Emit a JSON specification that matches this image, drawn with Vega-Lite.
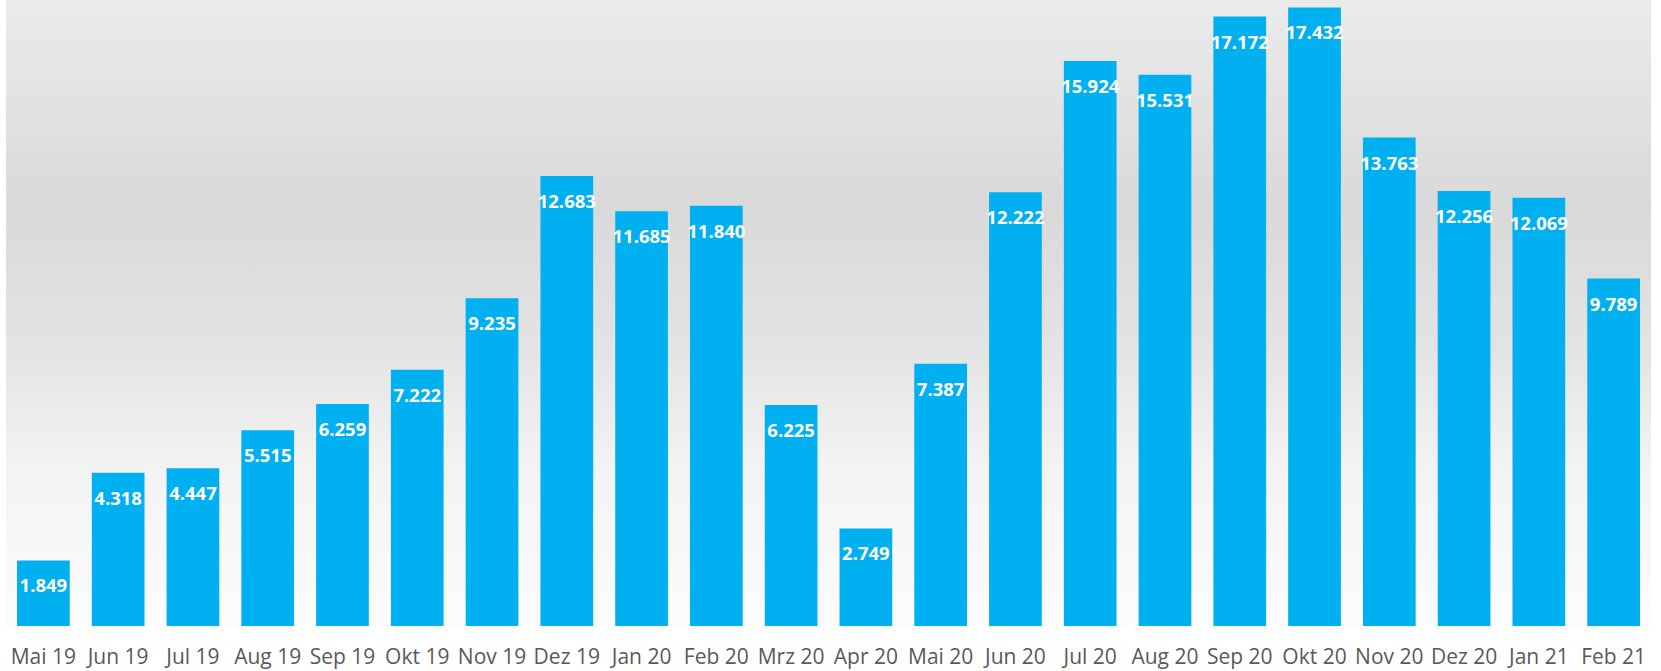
{
  "$schema": "https://vega.github.io/schema/vega-lite/v6.json",
  "autosize": "none",
  "width": 1645,
  "height": 626,
  "padding": {"left": 6, "top": 0, "right": 10, "bottom": 45},
  "background": "#ffffff",
  "view": {
    "stroke": null,
    "fill": {
      "gradient": "linear",
      "x1": 0, "y1": 0, "x2": 0, "y2": 1,
      "stops": [
        {"offset": 0, "color": "#ebebeb"},
        {"offset": 0.33, "color": "#d9d9d9"},
        {"offset": 0.55, "color": "#e3e3e3"},
        {"offset": 0.75, "color": "#f3f3f3"},
        {"offset": 1, "color": "#fcfcfc"}
      ]
    }
  },
  "config": {
    "locale": {"number": {"decimal": ",", "thousands": ".", "grouping": [3], "currency": ["", " €"]}}
  },
  "data": {
    "values": [
      {"month": "Mai 19", "value": 1849},
      {"month": "Jun 19", "value": 4318},
      {"month": "Jul 19", "value": 4447},
      {"month": "Aug 19", "value": 5515},
      {"month": "Sep 19", "value": 6259},
      {"month": "Okt 19", "value": 7222},
      {"month": "Nov 19", "value": 9235},
      {"month": "Dez 19", "value": 12683},
      {"month": "Jan 20", "value": 11685},
      {"month": "Feb 20", "value": 11840},
      {"month": "Mrz 20", "value": 6225},
      {"month": "Apr 20", "value": 2749},
      {"month": "Mai 20", "value": 7387},
      {"month": "Jun 20", "value": 12222},
      {"month": "Jul 20", "value": 15924},
      {"month": "Aug 20", "value": 15531},
      {"month": "Sep 20", "value": 17172},
      {"month": "Okt 20", "value": 17432},
      {"month": "Nov 20", "value": 13763},
      {"month": "Dez 20", "value": 12256},
      {"month": "Jan 21", "value": 12069},
      {"month": "Feb 21", "value": 9789}
    ]
  },
  "encoding": {
    "x": {
      "field": "month", "type": "nominal", "sort": null,
      "scale": {"paddingInner": 0.295, "paddingOuter": 0.1475},
      "axis": {
        "title": null, "labelAngle": 0, "ticks": false, "domain": false,
        "labelFont": "Open Sans", "labelFontSize": 21, "labelColor": "#595959",
        "labelPadding": 20
      }
    },
    "y": {
      "field": "value", "type": "quantitative",
      "scale": {"domain": [0, 17640], "nice": false},
      "axis": null
    }
  },
  "layer": [
    {"mark": {"type": "bar", "color": "#00b0f0"}},
    {
      "mark": {"type": "text", "dy": 26, "baseline": "middle", "align": "center", "font": "Open Sans", "fontWeight": "bold", "fontSize": 18.5, "color": "#ffffff"},
      "encoding": {"text": {"field": "value", "type": "quantitative", "format": ",d"}}
    }
  ]
}
